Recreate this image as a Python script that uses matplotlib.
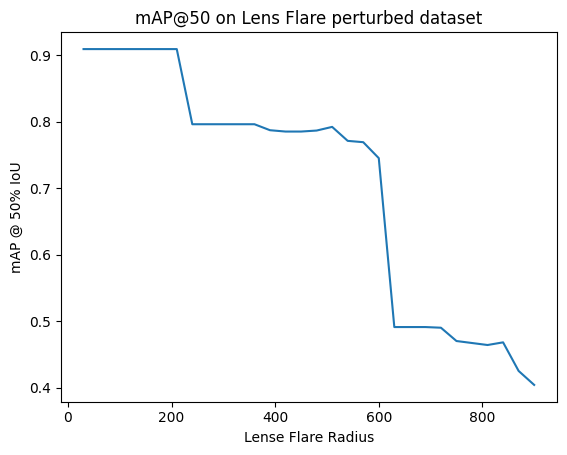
import matplotlib
matplotlib.use("Agg")
import matplotlib.pyplot as plt

radius = list(range(30, 901, 30))
map50 = [0.909, 0.909, 0.909, 0.909, 0.909, 0.909, 0.909,
         0.796, 0.796, 0.796, 0.796, 0.796,
         0.787, 0.785, 0.785, 0.7865, 0.792, 0.771, 0.769, 0.745,
         0.491, 0.491, 0.491, 0.490, 0.470, 0.467, 0.464, 0.468,
         0.425, 0.404]

fig = plt.figure(figsize=(5.67, 4.55), dpi=100)
fig.subplots_adjust(left=61 / 567, right=556.7 / 567,
                    top=1 - 32.3 / 455, bottom=1 - 401.7 / 455)
ax = fig.add_subplot(111)
ax.plot(radius, map50)
ax.set_title("mAP@50 on Lens Flare perturbed dataset")
ax.set_xlabel("Lense Flare Radius")
ax.set_ylabel("mAP @ 50% IoU")
fig.savefig("out.png", dpi=100)
